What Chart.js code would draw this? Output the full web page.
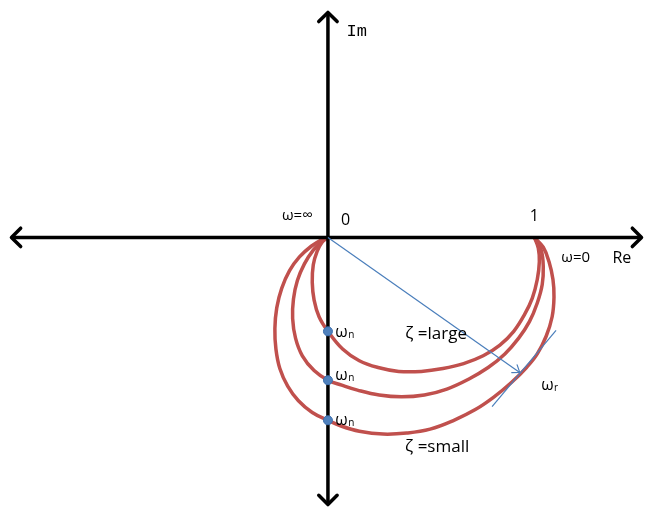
<!DOCTYPE html>
<html>
<head>
<meta charset="utf-8">
<script src="https://cdn.jsdelivr.net/npm/chart.js@4.4.1/dist/chart.umd.min.js"></script>
<style>
  html, body { margin: 0; padding: 0; background: #fff; }
  #wrap { width: 649px; height: 512px; position: relative; }
</style>
</head>
<body>
<div id="wrap"><canvas id="nyquist"></canvas></div>
<script>
'use strict'

// Nyquist loci of a 2nd order lag, (Re, Im) from w = 0 at (1, 0) round to w = inf at the origin
var reLarge = [1, 1.019, 1.024, 1.014, 0.990, 0.952, 0.900, 0.833, 0.752, 0.657, 0.557, 0.452, 0.343, 0.243, 0.152, 0.071, 0, -0.043, -0.067, -0.076, -0.071, -0.052, -0.029, 0];
var imLarge = [0, -0.052, -0.119, -0.205, -0.295, -0.376, -0.457, -0.524, -0.576, -0.614, -0.638, -0.652, -0.652, -0.633, -0.600, -0.543, -0.457, -0.386, -0.305, -0.219, -0.133, -0.067, -0.024, 0];

var reMid = [1, 1.033, 1.043, 1.038, 1.014, 0.976, 0.924, 0.857, 0.776, 0.681, 0.576, 0.467, 0.357, 0.248, 0.143, 0.067, 0, -0.067, -0.124, -0.157, -0.171, -0.167, -0.148, -0.114, -0.071, -0.029, 0];
var imMid = [0, -0.062, -0.143, -0.229, -0.319, -0.410, -0.490, -0.567, -0.633, -0.690, -0.738, -0.767, -0.776, -0.767, -0.743, -0.719, -0.695, -0.648, -0.576, -0.490, -0.395, -0.300, -0.210, -0.129, -0.062, -0.019, 0];

var reSmall = [1, 1.043, 1.071, 1.090, 1.095, 1.086, 1.057, 1.014, 0.962, 0.890, 0.805, 0.714, 0.610, 0.495, 0.381, 0.267, 0.152, 0.067, 0, -0.076, -0.143, -0.195, -0.233, -0.252, -0.257, -0.248, -0.224, -0.186, -0.138, -0.081, -0.029, 0];
var imSmall = [0, -0.048, -0.119, -0.205, -0.290, -0.386, -0.481, -0.567, -0.633, -0.705, -0.776, -0.838, -0.890, -0.933, -0.952, -0.957, -0.943, -0.919, -0.890, -0.852, -0.795, -0.724, -0.638, -0.543, -0.443, -0.343, -0.248, -0.162, -0.095, -0.043, -0.010, 0];

// crossings of the imaginary axis (w = wn)
var wnIm = [-0.457, -0.695, -0.890];

// resonant point and the tangent through it
var wrPoint = [0.929, -0.657];
var tangentRe = [0.795, 1.105];
var tangentIm = [-0.824, -0.452];

// extent of the drawn axes
var axisRe = [-1.533, 1.519];
var axisIm = [-1.300, 1.095];

var RED = '#c0504d';
var BLUE = '#4a7ebb';

function pts(re, im) {
    return re.map(function (v, i) { return { x: v, y: im[i] }; });
}

function head(ctx, x, y, ang, len, spread) {
    ctx.beginPath();
    ctx.moveTo(x - len * Math.cos(ang - spread), y - len * Math.sin(ang - spread));
    ctx.lineTo(x, y);
    ctx.lineTo(x - len * Math.cos(ang + spread), y - len * Math.sin(ang + spread));
    ctx.stroke();
}

var decor = {
    id: 'decor',
    afterDraw: function (chart) {
        var ctx = chart.ctx;
        var sx = chart.scales.x, sy = chart.scales.y;
        var px = function (v) { return sx.getPixelForValue(v); };
        var py = function (v) { return sy.getPixelForValue(v); };

        ctx.save();
        ctx.lineCap = 'round';
        ctx.lineJoin = 'round';

        // axis arrowheads
        ctx.strokeStyle = '#000';
        ctx.lineWidth = 3.5;
        head(ctx, px(axisRe[1]), py(0), 0, 13, Math.PI / 4);
        head(ctx, px(axisRe[0]), py(0), Math.PI, 13, Math.PI / 4);
        head(ctx, px(0), py(axisIm[1]), -Math.PI / 2, 13, Math.PI / 4);
        head(ctx, px(0), py(axisIm[0]), Math.PI / 2, 13, Math.PI / 4);

        // arrowhead on the radius to w_r
        var x0 = px(0), y0 = py(0), x1 = px(wrPoint[0]), y1 = py(wrPoint[1]);
        ctx.strokeStyle = BLUE;
        ctx.lineWidth = 1.2;
        head(ctx, x1, y1, Math.atan2(y1 - y0, x1 - x0), 8, Math.PI / 5);

        // labels
        ctx.fillStyle = '#000';
        ctx.textBaseline = 'middle';
        ctx.textAlign = 'left';
        ctx.font = '17px "Liberation Mono"';
        ctx.fillText('Im', px(0.09), py(1.0));

        ctx.font = '15px "Open Sans"';
        ctx.textAlign = 'center';
        ctx.fillText('ω=∞', px(-0.148), py(0.105));
        ctx.fillText('ω=0', px(1.2), py(-0.1));
        ctx.font = '16px "Open Sans"';
        ctx.fillText('0', px(0.086), py(0.081));
        ctx.fillText('1', px(1.0), py(0.1));
        ctx.fillText('Re', px(1.424), py(-0.1));

        ctx.font = '17px "Open Sans"';
        ctx.fillText('ζ =large', px(0.524), py(-0.471));
        ctx.fillText('ζ =small', px(0.529), py(-1.019));

        // w with subscript
        function sub(main, s, x, y) {
            ctx.textAlign = 'left';
            ctx.font = '16px "Open Sans"';
            ctx.fillText(main, x, y);
            var w = ctx.measureText(main).width;
            ctx.font = '10px "Open Sans"';
            ctx.fillText(s, x + w + 0.5, y + 3);
        }
        var wnLabelIm = [-0.462, -0.671, -0.890];
        wnLabelIm.forEach(function (v) { sub('ω', 'n', px(0.036), py(v)); });
        sub('ω', 'r', px(1.033), py(-0.719));

        ctx.restore();
    }
};

var ctx = document.getElementById('nyquist').getContext('2d');
new Chart(ctx, {
    type: 'scatter',
    data: {
        datasets: [{
            // w = wn markers
            data: wnIm.map(function (v) { return { x: 0, y: v }; }),
            pointRadius: 4.5,
            pointBackgroundColor: '#4f81bd',
            pointBorderColor: '#3d6fae',
            pointBorderWidth: 1,
            showLine: false
        }, {
            data: pts([0, wrPoint[0]], [0, wrPoint[1]]),
            showLine: true,
            borderColor: BLUE,
            borderWidth: 1.2,
            pointRadius: 0
        }, {
            data: pts(tangentRe, tangentIm),
            showLine: true,
            borderColor: BLUE,
            borderWidth: 1.2,
            pointRadius: 0
        }, {
            data: pts(axisRe, [0, 0]),
            showLine: true,
            borderColor: '#000',
            borderWidth: 3.5,
            pointRadius: 0
        }, {
            data: pts([0, 0], axisIm),
            showLine: true,
            borderColor: '#000',
            borderWidth: 3.5,
            pointRadius: 0
        }, {
            data: pts(reLarge, imLarge),
            showLine: true,
            borderColor: RED,
            borderWidth: 3.5,
            pointRadius: 0,
            tension: 0.4
        }, {
            data: pts(reMid, imMid),
            showLine: true,
            borderColor: RED,
            borderWidth: 3.5,
            pointRadius: 0,
            tension: 0.4
        }, {
            data: pts(reSmall, imSmall),
            showLine: true,
            borderColor: RED,
            borderWidth: 3.5,
            pointRadius: 0,
            tension: 0.4
        }]
    },
    options: {
        responsive: true,
        maintainAspectRatio: false,
        animation: false,
        clip: false,
        layout: { padding: 0 },
        plugins: {
            legend: { display: false },
            tooltip: { enabled: false }
        },
        scales: {
            x: { type: 'linear', display: false, min: -328 / 210, max: 321 / 210 },
            y: { type: 'linear', display: false, min: -275 / 210, max: 237 / 210 }
        }
    },
    plugins: [decor]
});
</script>
</body>
</html>
